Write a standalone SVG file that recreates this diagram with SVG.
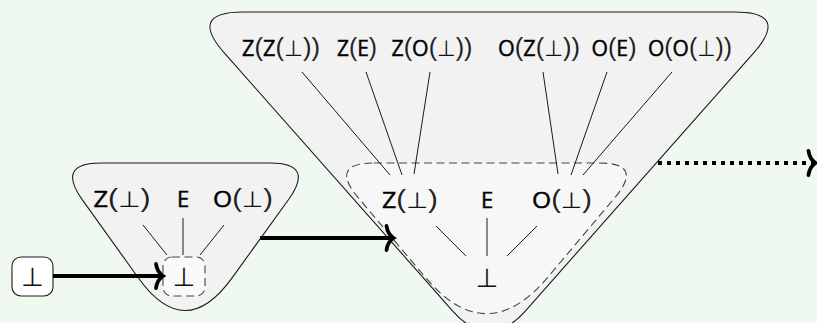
<svg xmlns="http://www.w3.org/2000/svg" width="817" height="323" viewBox="0 0 817 323">
<style>
.bg{fill:#f0f9f0}
.shape{fill:#f2f2f2;stroke:#1a1a1a;stroke-width:1.1}
.inner{fill:#f7f7f7;stroke:#444;stroke-width:1.1;stroke-dasharray:8 4.5}
.box{fill:#ffffff;stroke:#1a1a1a;stroke-width:1.1}
.edge{stroke:#1a1a1a;stroke-width:1;fill:none}
.arr{stroke:#000;stroke-width:4;fill:none}
.dot{stroke:#000;stroke-width:4;fill:none;stroke-dasharray:4 5}
.lt{font-family:"Open Sans","Noto Sans","DejaVu Sans",sans-serif;font-size:22px;fill:#000;stroke:#000;stroke-width:0.45;text-anchor:middle}
.p{font-family:"Liberation Sans","DejaVu Sans",sans-serif;font-size:26px;fill:#222;stroke:none}
.b{font-family:"DejaVu Sans",sans-serif;font-size:22px;fill:#111;stroke:none}
.bb{font-family:"DejaVu Sans",sans-serif;font-size:26px;fill:#111;stroke:none}
</style>
<defs>
<marker id="to" viewBox="-9 -14 12 28" markerUnits="userSpaceOnUse" markerWidth="12" markerHeight="28" refX="0" refY="0" orient="auto" overflow="visible">
<path d="M-6.5,-12 C-5.5,-5 -1,-1 0.5,0 C-1,1 -5.5,5 -6.5,12" fill="none" stroke="#000" stroke-width="3.8" stroke-linecap="round"/>
</marker>
</defs>
<rect class="bg" x="0" y="0" width="817" height="323"/>

<g id="big-triangle">
<path class="shape" d="M243,12 L735,12 Q790,12 753.5,53.2 L525.5,310.8 Q489,352 452.5,310.8 L224.5,53.2 Q188,12 243,12 Z"/>
<path class="inner" d="M374,163 L599,163 Q644,163 615,197.4 L547.7,277.3 Q486.5,350 425.3,277.3 L358,197.4 Q329,163 374,163 Z"/>
<text class="lt" x="281" y="56" textLength="78" lengthAdjust="spacingAndGlyphs">Z<tspan class="p">(</tspan>Z<tspan class="p">(</tspan><tspan class="b">⊥</tspan><tspan class="p">))</tspan></text>
<text class="lt" x="357" y="56" textLength="40" lengthAdjust="spacingAndGlyphs">Z<tspan class="p">(</tspan>E<tspan class="p">)</tspan></text>
<text class="lt" x="432" y="56" textLength="81" lengthAdjust="spacingAndGlyphs">Z<tspan class="p">(</tspan>O<tspan class="p">(</tspan><tspan class="b">⊥</tspan><tspan class="p">))</tspan></text>
<text class="lt" x="539" y="56" textLength="82" lengthAdjust="spacingAndGlyphs">O<tspan class="p">(</tspan>Z<tspan class="p">(</tspan><tspan class="b">⊥</tspan><tspan class="p">))</tspan></text>
<text class="lt" x="614" y="56" textLength="45" lengthAdjust="spacingAndGlyphs">O<tspan class="p">(</tspan>E<tspan class="p">)</tspan></text>
<text class="lt" x="690" y="56" textLength="84" lengthAdjust="spacingAndGlyphs">O<tspan class="p">(</tspan>O<tspan class="p">(</tspan><tspan class="b">⊥</tspan><tspan class="p">))</tspan></text>
<text class="lt" x="410" y="208" textLength="56" lengthAdjust="spacingAndGlyphs">Z<tspan class="p">(</tspan><tspan class="b">⊥</tspan><tspan class="p">)</tspan></text>
<text class="lt" x="487" y="208">E</text>
<text class="lt" x="562" y="208" textLength="60" lengthAdjust="spacingAndGlyphs">O<tspan class="p">(</tspan><tspan class="b">⊥</tspan><tspan class="p">)</tspan></text>
<text class="lt" x="487" y="287"><tspan class="bb">⊥</tspan></text>
</g>

<g id="small-triangle">
<path class="shape" d="M101,163 L270,163 Q315,163 288.6,199.5 L231.9,278.1 Q185,343 138.4,278 L82.2,199.6 Q56,163 101,163 Z"/>
<rect class="inner" x="163" y="257" width="42" height="39" rx="9" style="fill:#fafafa"/>
<text class="lt" x="122" y="207" textLength="57" lengthAdjust="spacingAndGlyphs">Z<tspan class="p">(</tspan><tspan class="b">⊥</tspan><tspan class="p">)</tspan></text>
<text class="lt" x="183" y="207">E</text>
<text class="lt" x="243" y="207" textLength="60" lengthAdjust="spacingAndGlyphs">O<tspan class="p">(</tspan><tspan class="b">⊥</tspan><tspan class="p">)</tspan></text>
<text class="lt" x="184" y="286"><tspan class="bb">⊥</tspan></text>
</g>

<g id="bottom-box">
<rect class="box" x="12" y="257" width="41" height="39" rx="9"/>
<text class="lt" x="32.5" y="286"><tspan class="bb">⊥</tspan></text>
</g>

<g id="connectors">
<line class="edge" x1="143" y1="225" x2="167" y2="255"/>
<line class="edge" x1="183" y1="218" x2="183" y2="255"/>
<line class="edge" x1="224" y1="225" x2="200" y2="255"/>
<line class="edge" x1="436" y1="226" x2="466" y2="256"/>
<line class="edge" x1="487" y1="218" x2="487" y2="256"/>
<line class="edge" x1="537" y1="226" x2="507" y2="256"/>
<line class="edge" x1="302" y1="72" x2="390" y2="175"/>
<line class="edge" x1="366" y1="72" x2="402" y2="175"/>
<line class="edge" x1="430" y1="72" x2="414" y2="174"/>
<line class="edge" x1="543" y1="72" x2="558" y2="174"/>
<line class="edge" x1="607" y1="72" x2="571" y2="175"/>
<line class="edge" x1="672" y1="72" x2="583" y2="175"/>
<line class="arr" x1="53" y1="276" x2="162.5" y2="276" marker-end="url(#to)"/>
<line class="arr" x1="260" y1="238" x2="393" y2="238" marker-end="url(#to)"/>
<line class="dot" x1="658" y1="163" x2="815" y2="163" marker-end="url(#to)"/>
</g>
</svg>
